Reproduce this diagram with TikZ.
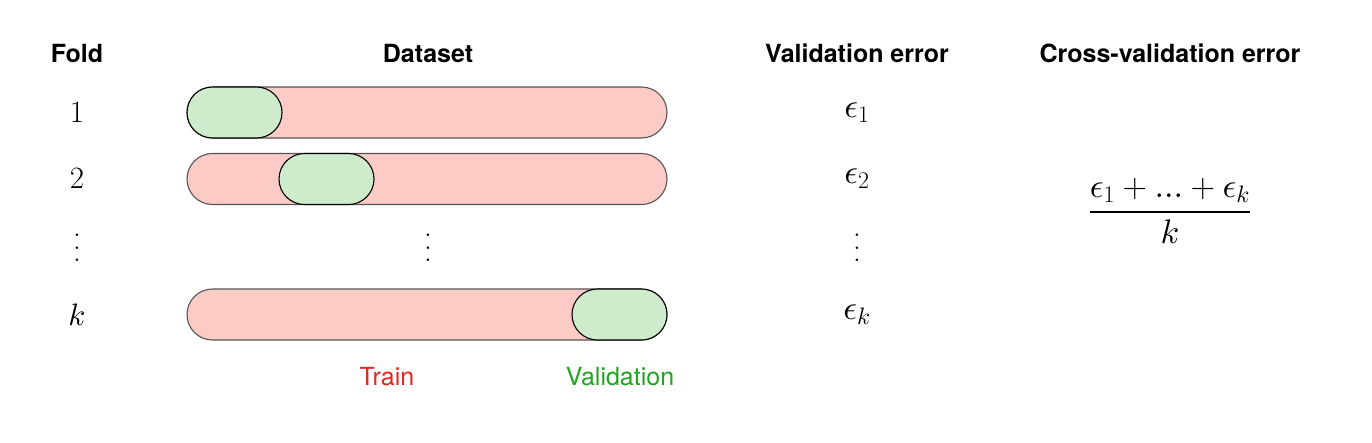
\RequirePackage{fix-cm}
\documentclass[tikz,border=0pt]{standalone}
\usepackage{amsmath}
\usepackage{fontspec}
\setsansfont{TeX Gyre Heros}
\DeclareFontShape{OML}{cmm}{m}{it}{<->cmmi10}{}
\DeclareFontShape{OMS}{cmsy}{m}{n}{<->cmsy10}{}
\DeclareFontShape{OMX}{cmex}{m}{n}{<->cmex10}{}
\definecolor{trainfill}{HTML}{FDCBC6}
\definecolor{valfill}{HTML}{CEEBCB}
\definecolor{trainborder}{HTML}{555555}
\definecolor{trainred}{HTML}{E6261F}
\definecolor{valgreen}{HTML}{22A31F}
\newcommand{\bigvdots}{\vbox{\baselineskip=12.5pt\lineskiplimit=0pt\hbox{.}\hbox{.}\hbox{.}}}
\tikzset{
  head/.style={font=\sffamily\bfseries\fontsize{25}{30}\selectfont, anchor=base},
  mathlbl/.style={font=\fontsize{31}{36}\selectfont},
  errlbl/.style={font=\fontsize{34}{38}\selectfont},
  trainbar/.style={draw=trainborder, fill=trainfill, line width=1.1pt, rounded corners=25.5pt, minimum width=480pt, minimum height=51pt, inner sep=0pt},
  valbar/.style={draw=black, fill=valfill, line width=1.1pt, rounded corners=25.5pt, minimum width=95pt, minimum height=51pt, inner sep=0pt},
  legend/.style={font=\sffamily\fontsize{25}{30}\selectfont, anchor=base}
}
\begin{document}
\begin{tikzpicture}[x=1pt,y=-1pt]
\useasboundingbox (0,0) rectangle (1372,442);
% headings
\node[head] (hfold) at (77,62) {Fold};
\node[head] (hdata) at (428,62) {Dataset};
\node[head] (hval) at (857,62) {Validation error};
\node[head] (hcv) at (1170,62) {Cross-validation error};
% fold numbers
\node[mathlbl] (f1) at (77,112.5) {$1$};
\node[mathlbl] (f2) at (77,179) {$2$};
\node[mathlbl] (fd) at (77,248) {\bigvdots};
\node[mathlbl] (fk) at (77,314.5) {$k$};
% bars
\node[trainbar] (b1) at (427,112.5) {};
\node[valbar] (v1) at (234.5,112.5) {};
\node[trainbar] (b2) at (427,179) {};
\node[valbar] (v2) at (326.5,179) {};
\node[mathlbl] (bd) at (428,248) {\bigvdots};
\node[trainbar] (bk) at (427,314.5) {};
\node[valbar] (vk) at (619.5,314.5) {};
% errors
\node[errlbl] (e1) at (857,112.5) {$\epsilon_1$};
\node[errlbl] (e2) at (857,179) {$\epsilon_2$};
\node[mathlbl] (ed) at (857,248) {\bigvdots};
\node[errlbl] (ek) at (857,314.5) {$\epsilon_k$};
% cross-validation
\node[errlbl] (cv) at (1170,211) {$\dfrac{\epsilon_1 + ... + \epsilon_k}{k}$};
% legend
\node[legend, text=trainred] (ltrain) at (387,385) {Train};
\node[legend, text=valgreen] (lval) at (620,385) {Validation};
\end{tikzpicture}
\end{document}
